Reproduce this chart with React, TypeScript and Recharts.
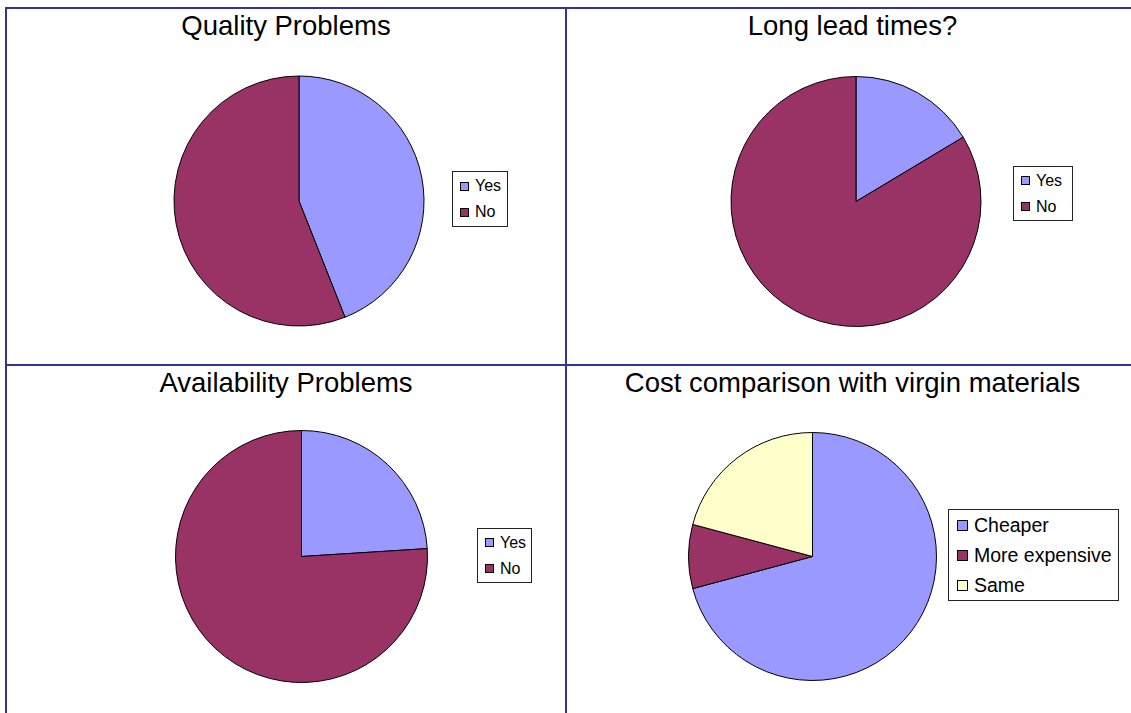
import React from 'react';
import { PieChart, Pie, Cell, Legend } from 'recharts';

// ---- Data ----
const yesNoLabels = ['Yes', 'No'];
const qualityValues = [44, 56];
const leadTimeValues = [16.4, 83.6];
const availabilityValues = [24, 76];
const costLabels = ['Cheaper', 'More expensive', 'Same'];
const costValues = [17, 2, 5];

const titles = [
  'Quality Problems',
  'Long lead times?',
  'Availability Problems',
  'Cost comparison with virgin materials',
];

const COLORS = ['#9999FF', '#993366', '#FFFFCC'];
const FONT = '"Liberation Sans", Arial, Helvetica, sans-serif';
const GRID = '#333399';

const build = (labels: string[], values: number[]) =>
  labels.map((name, i) => ({ name, value: values[i] }));

type LegendCfg = {
  left: number;
  top: number;
  w: number;
  h: number;
  row: number;
  font: number;
  sw: number;
  padL: number;
  gap: number;
};

const makeLegend = (cfg: LegendCfg, data: { name: string; value: number }[]) => () => (
  <div
    style={{
      width: cfg.w,
      height: cfg.h,
      boxSizing: 'border-box',
      border: '1px solid #222',
      background: '#fff',
      fontFamily: FONT,
      fontSize: cfg.font,
      color: '#000',
      paddingLeft: cfg.padL,
      paddingTop: Math.max(0, (cfg.h - 2 - cfg.row * data.length) / 2),
    }}
  >
    {data.map((d, i) => (
      <div
        key={i}
        style={{ display: 'flex', alignItems: 'center', height: cfg.row, whiteSpace: 'nowrap' }}
      >
        <span
          style={{
            display: 'inline-block',
            width: cfg.sw,
            height: cfg.sw,
            boxSizing: 'border-box',
            border: '1px solid #000',
            background: COLORS[i],
            marginRight: cfg.gap,
            flex: 'none',
          }}
        />
        <span>{d.name}</span>
      </div>
    ))}
  </div>
);

type PanelProps = {
  left: number;
  top: number;
  w: number;
  h: number;
  title: string;
  titleTop: number;
  data: { name: string; value: number }[];
  cx: number;
  cy: number;
  r: number;
  legend: LegendCfg;
};

const Panel = ({ left, top, w, h, title, titleTop, data, cx, cy, r, legend }: PanelProps) => (
  <div style={{ position: 'absolute', left, top, width: w, height: h }}>
    <PieChart width={w} height={h} margin={{ top: 0, right: 0, bottom: 0, left: 0 }}>
      <Pie
        data={data}
        dataKey="value"
        nameKey="name"
        cx={cx}
        cy={cy}
        outerRadius={r}
        startAngle={90}
        endAngle={-270}
        stroke="#000"
        strokeWidth={1}
        isAnimationActive={false}
        legendType="square"
      >
        {data.map((_, i) => (
          <Cell key={i} fill={COLORS[i]} />
        ))}
      </Pie>
      <Legend
        layout="vertical"
        align="center"
        verticalAlign="middle"
        content={makeLegend(legend, data)}
        wrapperStyle={{ left: legend.left, top: legend.top, width: legend.w, height: legend.h }}
      />
    </PieChart>
    <div
      style={{
        position: 'absolute',
        left: 0,
        top: titleTop,
        width: w,
        textAlign: 'center',
        fontFamily: FONT,
        fontSize: 27.5,
        lineHeight: '27px',
        color: '#000',
        whiteSpace: 'nowrap',
      }}
    >
      {title}
    </div>
  </div>
);

export default function App() {
  return (
    <div
      style={{
        position: 'absolute',
        left: 0,
        top: 0,
        width: 1131,
        height: 713,
        overflow: 'hidden',
        background: '#fff',
      }}
    >
      <Panel
        left={6}
        top={9}
        w={560}
        h={355}
        title={titles[0]}
        titleTop={3}
        data={build(yesNoLabels, qualityValues)}
        cx={293}
        cy={192}
        r={125}
        legend={{ left: 446, top: 162, w: 56, h: 56, row: 26, font: 16, sw: 9, padL: 7, gap: 6 }}
      />
      <Panel
        left={566}
        top={9}
        w={573}
        h={355}
        title={titles[1]}
        titleTop={3}
        data={build(yesNoLabels, leadTimeValues)}
        cx={290}
        cy={192.5}
        r={125}
        legend={{ left: 447, top: 157, w: 60, h: 55, row: 26, font: 16, sw: 9, padL: 7, gap: 6 }}
      />
      <Panel
        left={6}
        top={365}
        w={560}
        h={348}
        title={titles[2]}
        titleTop={4}
        data={build(yesNoLabels, availabilityValues)}
        cx={295.5}
        cy={191.5}
        r={126}
        legend={{ left: 471, top: 163, w: 55, h: 55, row: 26, font: 16, sw: 9, padL: 7, gap: 6 }}
      />
      <Panel
        left={566}
        top={365}
        w={573}
        h={348}
        title={titles[3]}
        titleTop={4}
        data={build(costLabels, costValues)}
        cx={246.5}
        cy={191.5}
        r={124}
        legend={{ left: 382, top: 144, w: 171, h: 92, row: 30, font: 19.5, sw: 11, padL: 8, gap: 6 }}
      />
      {/* grid frame */}
      <div style={{ position: 'absolute', left: 5, top: 7, width: 1126, height: 2, background: GRID }} />
      <div style={{ position: 'absolute', left: 5, top: 7, width: 2, height: 706, background: GRID }} />
      <div style={{ position: 'absolute', left: 565, top: 7, width: 2, height: 706, background: GRID }} />
      <div style={{ position: 'absolute', left: 5, top: 364, width: 1126, height: 2, background: GRID }} />
    </div>
  );
}
